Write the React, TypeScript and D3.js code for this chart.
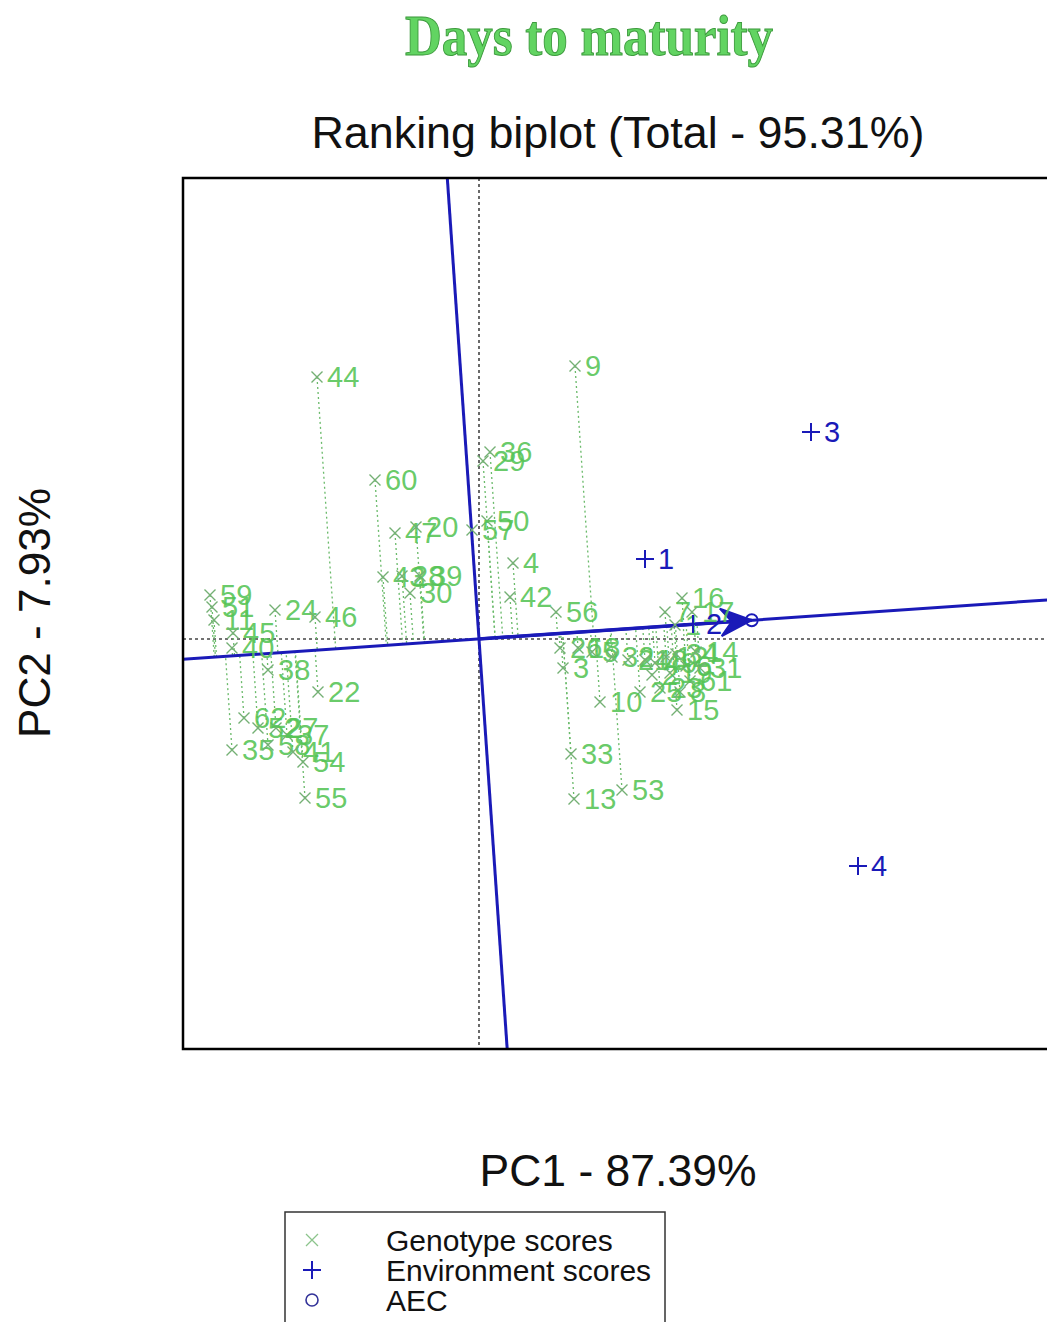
import React from "react";
import * as d3 from "d3";

const genotypeLabels = [
  "59","51","11","45","40","24","46","38","22","62","35","58","27","37","52","41","54","55",
  "44","60","47","20","43","28","39","30",
  "36","29","50","57","4","42",
  "9","56","26","3","18","5","32","21","48","49","12","34","6","14","19","61","23","8","2","25","31","10","16","7","17","1","15","33","13","53",
];
const genotypePC1 = [
  -2.69,-2.67,-2.65,-2.46,-2.47,-2.04,-1.64,-2.11,-1.61,-2.35,-2.47,-2.11,-2.03,-1.92,-2.21,-1.86,-1.76,-1.74,
  -1.62,-1.04,-0.84,-0.63,-0.96,-0.77,-0.59,-0.69,
  0.11,0.04,0.08,-0.07,0.34,0.31,
  0.96,0.77,0.81,0.84,0.99,1.13,1.33,1.49,1.66,1.76,1.87,1.97,2.07,2.17,1.91,2.11,1.81,2.01,1.73,1.61,2.21,1.21,2.03,1.86,2.13,1.96,1.98,0.92,0.95,1.43,
];
const genotypePC2 = [
  0.44,0.32,0.19,0.06,-0.09,0.29,0.22,-0.31,-0.53,-0.79,-1.11,-1.06,-0.89,-0.96,-0.89,-1.13,-1.23,-1.59,
  2.62,1.59,1.06,1.12,0.62,0.63,0.63,0.46,
  1.87,1.78,1.18,1.09,0.76,0.42,
  2.73,0.27,-0.09,-0.29,-0.09,-0.13,-0.18,-0.21,-0.21,-0.24,-0.18,-0.15,-0.27,-0.13,-0.34,-0.42,-0.49,-0.53,-0.36,-0.53,-0.29,-0.63,0.41,0.27,0.27,0.14,-0.71,-1.15,-1.6,-1.51,
];
const envLabels = ["1", "2", "3", "4"];
const envPC1 = [1.66, 2.14, 3.32, 3.79];
const envPC2 = [0.8, 0.15, 2.07, -2.27];

const xDomain = [-2.96, 5.75];
const yDomain = [-4.1, 4.61];

const titleText = "Days to maturity";
const subtitleText = "Ranking biplot (Total - 95.31%)";
const xLabel = "PC1 - 87.39%";
const yLabel = "PC2 - 7.93%";
const legendLabels = ["Genotype scores", "Environment scores", "AEC"];

export default function App() {
  const L = 183, T = 178, R = 1054, B = 1049;
  const x = d3.scaleLinear().domain(xDomain).range([L, R]);
  const y = d3.scaleLinear().domain(yDomain).range([B, T]);

  const aecX = d3.mean(envPC1) as number;
  const aecY = d3.mean(envPC2) as number;
  const norm = Math.hypot(aecX, aecY);
  const ux = aecX / norm, uy = aecY / norm;

  const green = "#55c455";
  const markGreen = "#74b074";
  const blue = "#1a1ab8";
  const sans = "'Liberation Sans', Arial, sans-serif";

  const big = 20;
  const line = d3.line<[number, number]>().x((d) => x(d[0])).y((d) => y(d[1]));

  const geno = genotypeLabels.map((lab, i) => {
    const gx = genotypePC1[i], gy = genotypePC2[i];
    const t = gx * ux + gy * uy;
    return { lab, gx, gy, fx: t * ux, fy: t * uy };
  });

  // arrowhead (barbed, filled)
  const tipX = x(aecX), tipY = y(aecY);
  const ang = Math.atan2(tipY - y(0), tipX - x(0));
  const ah = 34, aw = (24 * Math.PI) / 180;
  const a1 = [tipX - ah * Math.cos(ang - aw), tipY - ah * Math.sin(ang - aw)];
  const a2 = [tipX - ah * Math.cos(ang + aw), tipY - ah * Math.sin(ang + aw)];
  const notch = [tipX - 20 * Math.cos(ang), tipY - 20 * Math.sin(ang)];

  return (
    <svg width={1047} height={1322} style={{ position: "absolute", left: 0, top: 0, background: "#fff" }}>
      <defs>
        <clipPath id="plotclip">
          <rect x={L} y={T} width={R - L} height={B - T} />
        </clipPath>
      </defs>
      <text x={589} y={55} textAnchor="middle" fontFamily="'Liberation Serif', 'Times New Roman', serif" fontWeight="bold"
        fontSize={58} textLength={368} lengthAdjust="spacingAndGlyphs" fill="#62d462" stroke="#3c9a3c" strokeWidth={1}>
        {titleText}
      </text>
      <text x={618} y={148} textAnchor="middle" fontFamily={sans} fontSize={44} textLength={613} lengthAdjust="spacingAndGlyphs" fill="#111">
        {subtitleText}
      </text>
      <text x={618} y={1186} textAnchor="middle" fontFamily={sans} fontSize={44} textLength={277} lengthAdjust="spacingAndGlyphs" fill="#111">
        {xLabel}
      </text>
      <text transform={`translate(50,613) rotate(-90)`} textAnchor="middle" fontFamily={sans} fontSize={44} textLength={250} lengthAdjust="spacingAndGlyphs" fill="#111">
        {yLabel}
      </text>

      <g clipPath="url(#plotclip)">
        <line x1={x(0)} x2={x(0)} y1={T} y2={B} stroke="#444" strokeWidth={1.6} strokeDasharray="3,3" />
        <line x1={L} x2={R} y1={y(0)} y2={y(0)} stroke="#444" strokeWidth={1.6} strokeDasharray="3,3" />
        {geno.map((g, i) => (
          <path key={"p" + i} d={line([[g.gx, g.gy], [g.fx, g.fy]]) as string} stroke="#6aba6a" strokeWidth={1.3} strokeDasharray="2,3" fill="none" />
        ))}
        <path d={line([[-big * ux, -big * uy], [big * ux, big * uy]]) as string} stroke={blue} strokeWidth={3} fill="none" />
        <path d={line([[big * uy, -big * ux], [-big * uy, big * ux]]) as string} stroke={blue} strokeWidth={3} fill="none" />
        <path d={line([[0, 0], [aecX, aecY]]) as string} stroke={blue} strokeWidth={3.5} fill="none" />
        <path d={`M${a1[0]},${a1[1]} L${tipX},${tipY} L${a2[0]},${a2[1]} L${notch[0]},${notch[1]} Z`} fill={blue} stroke={blue} strokeWidth={2} strokeLinejoin="miter" />
        <circle cx={tipX} cy={tipY} r={6} fill="none" stroke={blue} strokeWidth={1.8} />
        {geno.map((g, i) => {
          const px = x(g.gx), py = y(g.gy), s = 5.5;
          return (
            <g key={"g" + i}>
              <path d={`M${px - s},${py - s}L${px + s},${py + s}M${px - s},${py + s}L${px + s},${py - s}`} stroke={markGreen} strokeWidth={1.4} />
              <text x={px + 10} y={py} dy="0.36em" fontFamily={sans} fontSize={29} fill={green} fillOpacity={0.9}>
                {g.lab}
              </text>
            </g>
          );
        })}
        {envLabels.map((lab, i) => {
          const px = x(envPC1[i]), py = y(envPC2[i]), s = 9;
          return (
            <g key={"e" + i}>
              <path d={`M${px - s},${py}L${px + s},${py}M${px},${py - s}L${px},${py + s}`} stroke={blue} strokeWidth={2} />
              <text x={px + 13} y={py} dy="0.36em" fontFamily={sans} fontSize={29} fill={blue}>
                {lab}
              </text>
            </g>
          );
        })}
      </g>
      <rect x={L} y={T} width={R - L} height={B - T} fill="none" stroke="#000" strokeWidth={2.5} />

      <rect x={285} y={1212} width={380} height={130} fill="#fff" stroke="#333" strokeWidth={1.5} />
      <path d="M306,1234L318,1246M306,1246L318,1234" stroke="#8cc48c" strokeWidth={1.3} />
      <path d="M303,1270L321,1270M312,1261L312,1279" stroke={blue} strokeWidth={2} />
      <circle cx={312} cy={1300} r={6} fill="none" stroke="#333399" strokeWidth={1.6} />
      {legendLabels.map((lab, i) => (
        <text key={lab} x={386} y={1240 + i * 30} dy="0.36em" fontFamily={sans} fontSize={30} fill="#111">
          {lab}
        </text>
      ))}
    </svg>
  );
}
